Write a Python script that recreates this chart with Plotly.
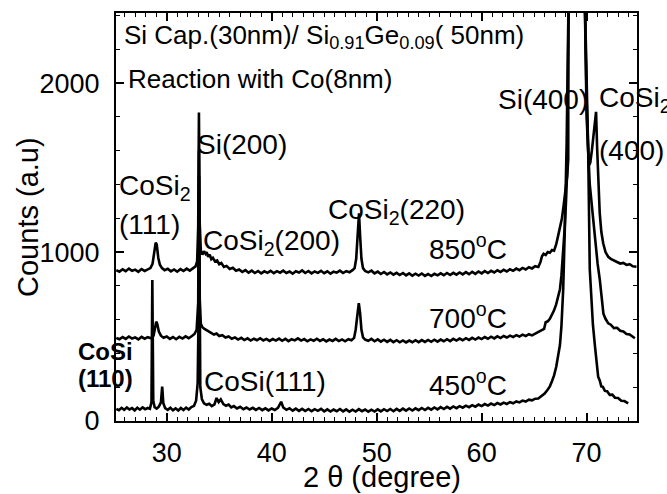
import plotly.graph_objects as go

# XRD scans (2theta in degrees, counts) for the Co / Si cap / SiGe stack annealed at three temperatures
scan_850C = [
    (25.2, 893), (25.5, 884), (25.8, 898), (26.1, 887), (26.4, 902), (26.7, 889), (27.0, 896), (27.3, 883),
    (27.6, 899), (27.9, 888), (28.2, 897), (28.45, 905), (28.65, 930), (28.8, 985), (28.95, 1055), (29.05, 1045),
    (29.2, 965), (29.35, 925), (29.55, 905), (29.8, 893), (30.1, 901), (30.4, 886), (30.7, 897), (31.0, 884),
    (31.3, 899), (31.6, 888), (31.9, 902), (32.2, 890), (32.5, 906), (32.75, 915), (32.9, 945), (33.0, 1150),
    (33.07, 1826), (33.14, 1180), (33.25, 1010), (33.4, 985), (33.55, 1005), (33.7, 990), (33.8, 1000), (33.95, 972),
    (34.1, 985), (34.25, 958), (34.4, 966), (34.6, 945), (34.8, 950), (35.0, 928), (35.2, 935), (35.45, 912),
    (35.7, 918), (36.0, 900), (36.3, 907), (36.6, 889), (36.9, 897), (37.2, 882), (37.5, 893), (37.8, 878),
    (38.1, 890), (38.4, 876), (38.7, 888), (39.0, 874), (39.3, 886), (39.6, 877), (39.9, 889), (40.2, 875),
    (40.5, 887), (40.8, 878), (41.1, 890), (41.4, 876), (41.7, 885), (42.0, 872), (42.3, 886), (42.6, 879),
    (42.9, 891), (43.2, 876), (43.5, 888), (43.8, 874), (44.1, 885), (44.4, 877), (44.7, 889), (45.0, 875),
    (45.3, 886), (45.6, 872), (45.9, 884), (46.2, 878), (46.5, 890), (46.8, 876), (47.1, 887), (47.4, 880),
    (47.7, 893), (47.9, 905), (48.05, 960), (48.2, 1110), (48.32, 1229), (48.42, 1100), (48.55, 960), (48.7, 905),
    (48.9, 888), (49.2, 880), (49.5, 890), (49.8, 874), (50.1, 884), (50.4, 870), (50.7, 882), (51.0, 868),
    (51.3, 879), (51.6, 866), (51.9, 877), (52.2, 864), (52.5, 876), (52.8, 862), (53.1, 874), (53.4, 860),
    (53.7, 872), (54.0, 861), (54.3, 873), (54.6, 859), (54.9, 870), (55.2, 858), (55.5, 871), (55.8, 862),
    (56.1, 874), (56.4, 863), (56.7, 876), (57.0, 864), (57.3, 877), (57.6, 866), (57.9, 879), (58.2, 868),
    (58.5, 881), (58.8, 869), (59.1, 883), (59.4, 871), (59.7, 885), (60.0, 874), (60.3, 887), (60.6, 876),
    (60.9, 889), (61.2, 879), (61.5, 892), (61.8, 882), (62.1, 895), (62.4, 885), (62.7, 898), (63.0, 889),
    (63.3, 902), (63.6, 893), (63.9, 906), (64.2, 897), (64.5, 910), (64.8, 903), (65.1, 916), (65.4, 912),
    (65.6, 940), (65.75, 975), (65.9, 990), (66.1, 982), (66.3, 1000), (66.5, 996), (66.7, 1012), (66.9, 1008),
    (67.1, 1045), (67.3, 1100), (67.5, 1150), (67.65, 1200), (67.8, 1270), (67.95, 1350), (68.05, 1395), (68.15, 1450),
    (68.25, 1550), (68.35, 2600), (69.05, 80000), (69.8, 2600), (70.0, 1900), (70.2, 1510), (70.35, 1530), (70.5, 1600),
    (70.65, 1690), (70.8, 1790), (70.9, 1830), (71.0, 1620), (71.1, 1420), (71.25, 1230), (71.4, 1120), (71.58, 1052),
    (71.8, 1000), (72.06, 972), (72.3, 960), (72.6, 948), (72.9, 941), (73.2, 932), (73.5, 936), (73.8, 924),
    (74.1, 928), (74.4, 916), (74.75, 913),
]

scan_700C = [
    (25.2, 492), (25.5, 484), (25.8, 497), (26.1, 486), (26.4, 500), (26.7, 488), (27.0, 495), (27.3, 483),
    (27.6, 498), (27.9, 487), (28.2, 496), (28.5, 490), (28.75, 505), (28.9, 560), (29.0, 588), (29.1, 575),
    (29.25, 530), (29.45, 505), (29.7, 493), (30.0, 500), (30.3, 486), (30.6, 497), (30.9, 484), (31.2, 498),
    (31.5, 488), (31.8, 501), (32.1, 490), (32.4, 503), (32.65, 515), (32.85, 540), (33.0, 700), (33.07, 1600),
    (33.14, 720), (33.25, 575), (33.4, 555), (33.6, 545), (33.8, 538), (34.0, 528), (34.25, 522), (34.5, 512),
    (34.75, 518), (35.0, 503), (35.3, 508), (35.6, 494), (35.9, 500), (36.2, 487), (36.5, 495), (36.8, 482),
    (37.1, 492), (37.4, 479), (37.7, 489), (38.0, 476), (38.3, 487), (38.6, 478), (38.9, 490), (39.2, 477),
    (39.5, 486), (39.8, 474), (40.1, 485), (40.4, 476), (40.7, 488), (41.0, 475), (41.3, 486), (41.6, 473),
    (41.9, 484), (42.2, 477), (42.5, 489), (42.8, 476), (43.1, 485), (43.4, 472), (43.7, 483), (44.0, 475),
    (44.3, 487), (44.6, 474), (44.9, 484), (45.2, 471), (45.5, 482), (45.8, 474), (46.1, 486), (46.4, 473),
    (46.7, 483), (47.0, 472), (47.3, 484), (47.6, 478), (47.85, 492), (48.0, 540), (48.15, 620), (48.3, 697),
    (48.42, 640), (48.55, 540), (48.7, 495), (48.9, 482), (49.2, 475), (49.5, 486), (49.8, 472), (50.1, 483),
    (50.4, 470), (50.7, 481), (51.0, 468), (51.3, 480), (51.6, 467), (51.9, 478), (52.2, 466), (52.5, 477),
    (52.8, 465), (53.1, 476), (53.4, 466), (53.7, 478), (54.0, 467), (54.3, 479), (54.6, 468), (54.9, 480),
    (55.2, 469), (55.5, 481), (55.8, 470), (56.1, 482), (56.4, 472), (56.7, 484), (57.0, 473), (57.3, 486),
    (57.6, 476), (57.9, 488), (58.2, 478), (58.5, 490), (58.8, 480), (59.1, 492), (59.4, 482), (59.7, 494),
    (60.0, 485), (60.3, 497), (60.6, 487), (60.9, 499), (61.2, 489), (61.5, 501), (61.8, 491), (62.1, 503),
    (62.4, 494), (62.7, 505), (63.0, 497), (63.3, 508), (63.6, 500), (63.9, 511), (64.2, 503), (64.5, 514),
    (64.8, 507), (65.1, 518), (65.4, 524), (65.7, 536), (65.95, 545), (66.1, 585), (66.3, 590), (66.5, 605),
    (66.7, 630), (66.9, 655), (67.1, 690), (67.3, 740), (67.46, 780), (67.6, 860), (67.77, 990), (67.9, 1130),
    (68.03, 1290), (68.15, 1480), (68.3, 2600), (69.05, 80000), (69.8, 2600), (70.0, 1800), (70.3, 1400), (70.55, 1230),
    (70.8, 1060), (71.05, 930), (71.25, 840), (71.45, 700), (71.6, 635), (71.8, 605), (72.06, 578), (72.3, 570),
    (72.6, 550), (72.9, 552), (73.2, 534), (73.5, 530), (73.8, 515), (74.1, 512), (74.4, 496), (74.6, 490),
]

scan_450C = [
    (25.2, 72), (25.45, 64), (25.7, 78), (25.95, 66), (26.2, 80), (26.45, 68), (26.7, 76), (26.95, 63),
    (27.2, 79), (27.45, 67), (27.7, 81), (27.95, 70), (28.2, 77), (28.4, 72), (28.55, 110), (28.63, 835),
    (28.72, 120), (28.85, 82), (29.05, 74), (29.25, 85), (29.45, 110), (29.57, 203), (29.68, 105), (29.85, 76),
    (30.1, 66), (30.35, 78), (30.6, 63), (30.85, 75), (31.1, 62), (31.35, 77), (31.6, 65), (31.85, 79),
    (32.1, 68), (32.35, 82), (32.6, 90), (32.8, 120), (32.95, 225), (33.03, 600), (33.08, 1450), (33.13, 600),
    (33.2, 200), (33.35, 130), (33.55, 105), (33.8, 96), (34.05, 102), (34.3, 88), (34.55, 98), (34.75, 136),
    (34.95, 112), (35.15, 128), (35.4, 100), (35.65, 90), (35.9, 97), (36.15, 80), (36.4, 88), (36.7, 74),
    (37.0, 84), (37.3, 70), (37.6, 80), (37.9, 68), (38.2, 78), (38.5, 66), (38.8, 77), (39.1, 64),
    (39.4, 75), (39.7, 63), (40.0, 74), (40.3, 65), (40.6, 78), (40.9, 114), (41.1, 80), (41.4, 66),
    (41.7, 75), (42.0, 61), (42.3, 73), (42.6, 60), (42.9, 72), (43.2, 59), (43.5, 71), (43.8, 58),
    (44.1, 70), (44.4, 60), (44.7, 72), (45.0, 57), (45.3, 69), (45.6, 56), (45.9, 68), (46.2, 58),
    (46.5, 71), (46.8, 57), (47.1, 69), (47.4, 55), (47.7, 67), (48.0, 56), (48.3, 70), (48.6, 58),
    (48.9, 68), (49.2, 55), (49.5, 67), (49.8, 56), (50.1, 69), (50.4, 57), (50.7, 70), (51.0, 59),
    (51.3, 71), (51.6, 58), (51.9, 72), (52.2, 60), (52.5, 73), (52.8, 61), (53.1, 74), (53.4, 62),
    (53.7, 75), (54.0, 64), (54.3, 77), (54.6, 65), (54.9, 78), (55.2, 67), (55.5, 80), (55.8, 69),
    (56.1, 82), (56.4, 71), (56.7, 84), (57.0, 73), (57.3, 86), (57.6, 76), (57.9, 88), (58.2, 79),
    (58.5, 91), (58.8, 82), (59.1, 94), (59.4, 85), (59.7, 97), (60.0, 88), (60.3, 100), (60.6, 91),
    (60.9, 103), (61.2, 94), (61.5, 106), (61.8, 98), (62.1, 109), (62.4, 101), (62.7, 112), (63.0, 105),
    (63.3, 116), (63.6, 110), (63.9, 121), (64.2, 115), (64.5, 126), (64.8, 122), (65.1, 132), (65.4, 133),
    (65.7, 147), (66.0, 162), (66.25, 182), (66.5, 205), (66.7, 235), (66.9, 270), (67.1, 320), (67.3, 385),
    (67.46, 450), (67.6, 560), (67.77, 780), (67.93, 1150), (68.1, 1650), (68.3, 2600), (69.05, 80000), (69.8, 2600),
    (70.0, 2050), (70.15, 1600), (70.3, 900), (70.45, 720), (70.6, 570), (70.8, 440), (71.0, 320), (71.1, 262),
    (71.25, 240), (71.4, 205), (71.55, 202), (71.74, 178), (71.95, 176), (72.2, 155), (72.45, 156), (72.7, 138),
    (73.0, 136), (73.3, 120), (73.6, 118), (73.96, 105),
]

# label text, position in plot-area fractions, font size
labels = [
    ("Si Cap.(30nm)/ Si<sub>0.91</sub>Ge<sub>0.09</sub>( 50nm)", 0.0115, 0.9436, 26),
    ("Reaction with Co(8nm)", 0.0192, 0.8382, 26),
    ("Si(200)", 0.1516, 0.6789, 28),
    ("CoSi<sub>2</sub>", 0.0019, 0.5711, 28),
    ("(111)", 0.0019, 0.4804, 28),
    ("CoSi<sub>2</sub>(200)", 0.1630, 0.4363, 28),
    ("CoSi<sub>2</sub>(220)", 0.403, 0.5123, 28),
    ("850<sup>o</sup>C", 0.597, 0.4265, 28),
    ("700<sup>o</sup>C", 0.597, 0.2574, 28),
    ("450<sup>o</sup>C", 0.597, 0.0931, 28),
    ("Si(400)", 0.7294, 0.7892, 28),
    ("CoSi<sub>2</sub>", 0.9232, 0.7892, 28),
    ("(400)", 0.9232, 0.6618, 28),
    ("<b>CoSi</b>", -0.0760, 0.1700, 24),
    ("<b>(110)</b>", -0.0760, 0.1030, 24),
    ("CoSi(111)", 0.165, 0.098, 28),
]

x_title = "2 \u03b8 (degree)"
y_title = "Counts (a.u)"

FONT = "Liberation Sans, Arial, Helvetica, sans-serif"

fig = go.Figure()
for scan in (scan_850C, scan_700C, scan_450C):
    fig.add_trace(go.Scatter(
        x=[p[0] for p in scan], y=[p[1] for p in scan], mode="lines",
        line=dict(color="black", width=2.6), showlegend=False, hoverinfo="skip",
    ))

for text, px, py, size in labels:
    fig.add_annotation(
        text=text, x=px, y=py, xref="paper", yref="paper", xanchor="left", yanchor="middle",
        showarrow=False, font=dict(family=FONT, size=size, color="black"),
    )

# axis titles placed explicitly below / left of the frame
fig.add_annotation(
    text=x_title, x=0.5106, y=-0.138, xref="paper", yref="paper", xanchor="center", yanchor="middle",
    showarrow=False, font=dict(family=FONT, size=29, color="black"),
)
fig.add_annotation(
    text=y_title, x=-0.169, y=0.5, xref="paper", yref="paper", xanchor="center", yanchor="middle",
    textangle=-90, showarrow=False, font=dict(family=FONT, size=29, color="black"),
)

axis_common = dict(
    showline=True, linecolor="black", linewidth=2, mirror="allticks", showgrid=False, zeroline=False,
    ticks="inside", ticklen=8, tickwidth=1.5, tickcolor="black", automargin=False,
    tickfont=dict(family=FONT, size=27, color="black"),
)

fig.update_xaxes(
    range=[25.17, 74.8], tick0=30, dtick=10, ticklabelstandoff=7,
    minor=dict(dtick=1, ticks="inside", ticklen=4, tickwidth=1.2, tickcolor="black"),
    **axis_common,
)
fig.update_yaxes(
    range=[0, 2415], tick0=0, dtick=1000, ticklabelstandoff=9,
    minor=dict(dtick=200, ticks="inside", ticklen=4, tickwidth=1.2, tickcolor="black"),
    **axis_common,
)

fig.update_layout(
    width=667, height=494,
    margin=dict(l=116, r=30, t=13, b=73),
    plot_bgcolor="white", paper_bgcolor="white",
    font=dict(family=FONT, color="black"),
)

fig.write_html("out.html")
